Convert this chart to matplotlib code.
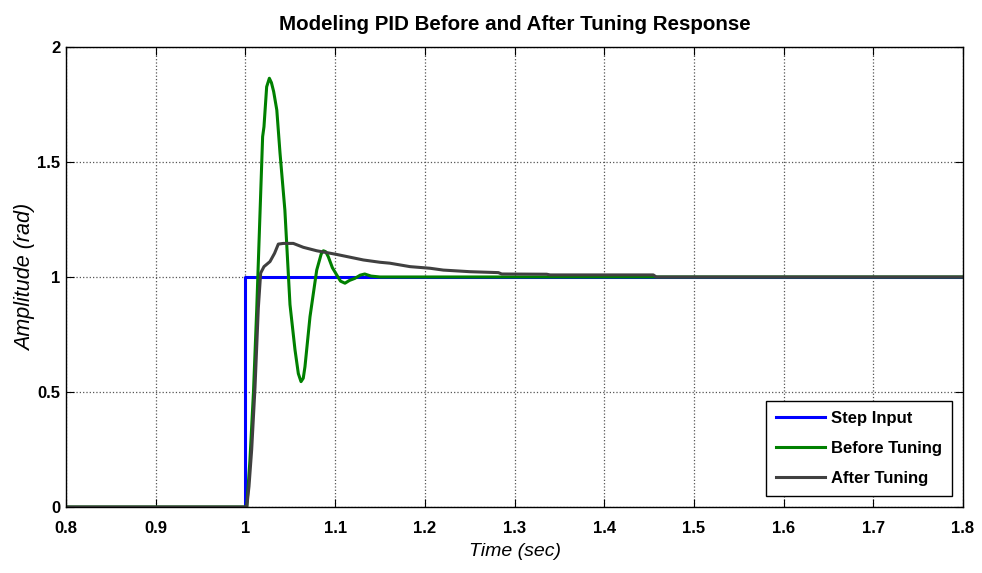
import matplotlib.pyplot as plt

plt.rcParams['font.family'] = ['Liberation Sans', 'DejaVu Sans']

# step reference
t_step = [0.8, 1.0, 1.8]
y_step = [0.0, 1.0, 1.0]

# response with the original gains
t_before = [0.8, 1.0, 1.0015, 1.005, 1.009, 1.0126, 1.0192, 1.0207, 1.0237,
            1.0267, 1.029, 1.0315, 1.035, 1.0386, 1.044, 1.0497, 1.0553,
            1.059, 1.062, 1.0645, 1.0664, 1.072, 1.0795, 1.0845, 1.0869, 1.0895,
            1.0924, 1.097, 1.1018, 1.106, 1.111, 1.116, 1.122, 1.128, 1.133,
            1.14, 1.15, 1.8]
y_before = [0.0, 0.0, 0.0, 0.2, 0.5, 0.857, 1.61, 1.653, 1.827,
            1.864, 1.845, 1.806, 1.726, 1.538, 1.291, 0.88, 0.683,
            0.58, 0.545, 0.56, 0.61, 0.827, 1.03, 1.10, 1.114, 1.11,
            1.088, 1.04, 1.009, 0.982, 0.973, 0.985, 0.994, 1.008, 1.013,
            1.004, 1.0, 1.0]

# response after retuning
t_after = [0.8, 1.0, 1.0015, 1.004, 1.007, 1.0107, 1.0144, 1.017, 1.0207, 1.0274,
           1.0325, 1.0367, 1.0423, 1.0534, 1.0646, 1.0795, 1.1018, 1.1315, 1.15,
           1.161, 1.1835, 1.2058, 1.2206, 1.2504, 1.282, 1.2857, 1.3359, 1.3396,
           1.4547, 1.458, 1.8]
y_after = [0.0, 0.0, 0.0, 0.09, 0.25, 0.52, 0.865, 1.017, 1.045, 1.067,
           1.103, 1.143, 1.146, 1.146, 1.129, 1.114, 1.098, 1.074, 1.064,
           1.06, 1.045, 1.038, 1.030, 1.023, 1.019, 1.013, 1.012, 1.009,
           1.009, 1.0, 1.0]

fig = plt.figure(figsize=(9.82, 5.73), dpi=100)
ax = fig.add_axes([0.0672, 0.1152, 0.9135, 0.8028])

ax.plot(t_step, y_step, color='#0000ff', lw=2.2, drawstyle='steps-post', label='Step Input')
ax.plot(t_before, y_before, color='#008000', lw=2.2, label='Before Tuning')
ax.plot(t_after, y_after, color='#404040', lw=2.2, label='After Tuning')

ax.set_xlim(0.8, 1.8)
ax.set_ylim(0, 2)
ax.set_xticks([0.8, 0.9, 1.0, 1.1, 1.2, 1.3, 1.4, 1.5, 1.6, 1.7, 1.8])
ax.set_xticklabels(['0.8', '0.9', '1', '1.1', '1.2', '1.3', '1.4', '1.5', '1.6', '1.7', '1.8'])
ax.set_yticks([0, 0.5, 1, 1.5, 2])
ax.set_yticklabels(['0', '0.5', '1', '1.5', '2'])
ax.tick_params(direction='in', top=True, right=True, length=6, labelsize=12)
ax.tick_params(axis='x', pad=10)
ax.tick_params(axis='y', pad=4)
for lab in ax.get_xticklabels() + ax.get_yticklabels():
    lab.set_fontweight('bold')
ax.grid(True, color='#555555', linestyle=':', linewidth=0.9)
for s in ax.spines.values():
    s.set_linewidth(1.0)

ax.set_title('Modeling PID Before and After Tuning Response', fontsize=14.8, fontweight='bold', pad=12)
ax.set_xlabel('Time (sec)', fontsize=14, fontstyle='italic', labelpad=5)
ax.set_ylabel('Amplitude (rad)', fontsize=15.5, fontstyle='italic', labelpad=1)

leg = ax.legend(loc='lower right', fancybox=False, framealpha=1, edgecolor='black',
                prop={'weight': 'bold', 'size': 12}, handlelength=2.9,
                handletextpad=0.4, labelspacing=0.9, borderpad=0.6,
                borderaxespad=0.65)
leg.get_frame().set_linewidth(1.0)

fig.savefig('out.png', dpi=100)
